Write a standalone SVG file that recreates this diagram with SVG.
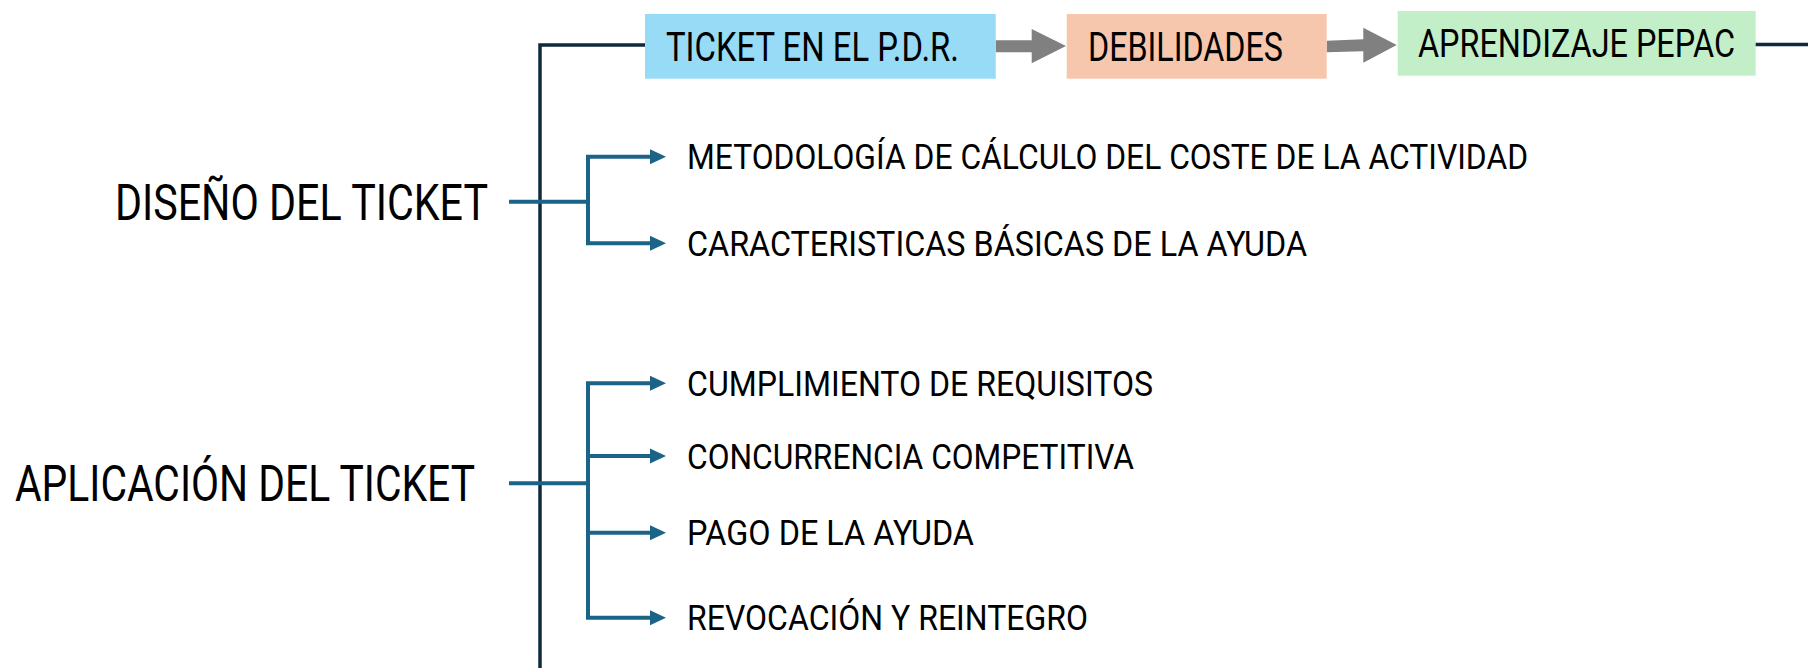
<svg xmlns="http://www.w3.org/2000/svg" width="1808" height="668" viewBox="0 0 1808 668">
<defs>
<style>
.t{font-family:Roboto,"Liberation Sans",sans-serif;fill:#000;}
.box{font-size:40px;}
.lab{font-size:50px;}
.sub{font-size:35px;}
.dark{stroke:#0f2a3c;stroke-width:3.5;fill:none;}
.blue{stroke:#1b6387;stroke-width:4;fill:none;}
.gray{fill:#808080;}
</style>
<marker id="ah" markerUnits="userSpaceOnUse" markerWidth="16" markerHeight="16" refX="0" refY="7.5" orient="auto" viewBox="0 0 16 15">
<path d="M0,0 L16,7.5 L0,15 Z" fill="#1b6387"/>
</marker>
</defs>
<rect width="1808" height="668" fill="#fff"/>
<g id="connectors">
<path class="dark" d="M645,45 H540 V668"/>
<path class="dark" d="M1755,44.5 H1808"/>
<polygon class="gray" points="995.7,40.3 1031.7,40.3 1031.7,29 1066,46 1031.7,63.3 1031.7,52.3 995.7,52.3"/>
<polygon class="gray" points="1326.7,40.7 1363.3,39.3 1363.3,27.7 1396.7,45 1363.3,62.7 1363.3,51.3 1326.7,52.3"/>
<path class="blue" d="M509,201.7 H588"/>
<path class="blue" d="M588,156.7 V243.3"/>
<path class="blue" d="M586,156.7 H650" marker-end="url(#ah)"/>
<path class="blue" d="M586,243.3 H650" marker-end="url(#ah)"/>
<path class="blue" d="M509,483.3 H588"/>
<path class="blue" d="M588,383.3 V617.7"/>
<path class="blue" d="M586,383.3 H650" marker-end="url(#ah)"/>
<path class="blue" d="M588,456 H650" marker-end="url(#ah)"/>
<path class="blue" d="M588,532.7 H650" marker-end="url(#ah)"/>
<path class="blue" d="M586,617.7 H650" marker-end="url(#ah)"/>
</g>
<g id="ticket-pdr">
<rect x="645" y="14" width="350.7" height="64.7" fill="#97dbf7"/>
<text class="t box" x="666" y="60.7" textLength="293" lengthAdjust="spacingAndGlyphs">TICKET EN EL P.D.R.</text>
</g>
<g id="debilidades">
<rect x="1066.7" y="14" width="260" height="64.7" fill="#f7c7ad"/>
<text class="t box" x="1088" y="60.5" textLength="195" lengthAdjust="spacingAndGlyphs">DEBILIDADES</text>
</g>
<g id="aprendizaje">
<rect x="1397.7" y="11" width="358" height="64.7" fill="#c2efc8"/>
<text class="t box" style="font-size:38px" x="1418" y="57" textLength="317" lengthAdjust="spacingAndGlyphs">APRENDIZAJE PEPAC</text>
</g>
<g id="diseno">
<text class="t lab" x="115" y="219.5" textLength="373" lengthAdjust="spacingAndGlyphs">DISEÑO DEL TICKET</text>
</g>
<g id="aplicacion">
<text class="t lab" x="15" y="500.5" textLength="460" lengthAdjust="spacingAndGlyphs">APLICACIÓN DEL TICKET</text>
</g>
<g id="metodologia">
<text class="t sub" x="687" y="169.3" textLength="841" lengthAdjust="spacingAndGlyphs">METODOLOGÍA DE CÁLCULO DEL COSTE DE LA ACTIVIDAD</text>
</g>
<g id="caracteristicas">
<text class="t sub" x="687" y="255.8" textLength="620" lengthAdjust="spacingAndGlyphs">CARACTERISTICAS BÁSICAS DE LA AYUDA</text>
</g>
<g id="cumplimiento">
<text class="t sub" x="687" y="396.3" textLength="466" lengthAdjust="spacingAndGlyphs">CUMPLIMIENTO DE REQUISITOS</text>
</g>
<g id="concurrencia">
<text class="t sub" x="687" y="468.6" textLength="447" lengthAdjust="spacingAndGlyphs">CONCURRENCIA COMPETITIVA</text>
</g>
<g id="pago">
<text class="t sub" x="687" y="545.3" textLength="287" lengthAdjust="spacingAndGlyphs">PAGO DE LA AYUDA</text>
</g>
<g id="revocacion">
<text class="t sub" x="687" y="630.3" textLength="401" lengthAdjust="spacingAndGlyphs">REVOCACIÓN Y REINTEGRO</text>
</g>
</svg>
